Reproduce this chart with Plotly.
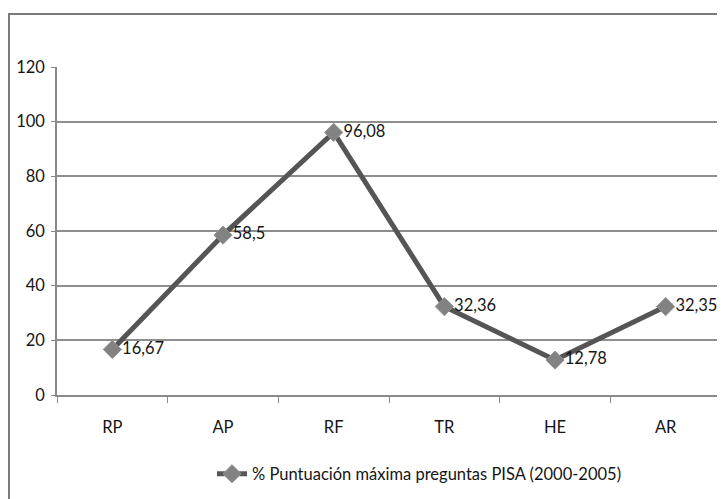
import plotly.graph_objects as go

categories = ["RP", "AP", "RF", "TR", "HE", "AR"]
values = [16.67, 58.5, 96.08, 32.36, 12.78, 32.35]
y_ticks = [0, 20, 40, 60, 80, 100, 120]
series_name = "% Puntuación máxima preguntas PISA (2000-2005)"

labels = [f"{v:g}".replace(".", ",") for v in values]

FONT = "Lato, 'Open Sans', sans-serif"
FS = 16.5
TXT = "#151515"
OFF = 8  # default page body margin
W, H = 725 - OFF, 499 - OFF
# target page-pixel positions of plot area
PX_L, PX_R, PX_T, PX_B = 57, 721, 67, 395
L = PX_L - OFF
T = PX_T - OFF
R = (W + OFF) - PX_R
B = (H + OFF) - PX_B
pw, ph = PX_R - PX_L, PX_B - PX_T

def px_x(x):
    return (x - PX_L) / pw

def px_y(y):
    return (PX_B - y) / ph

fig = go.Figure()
fig.add_trace(go.Scatter(
    x=categories, y=values, mode="lines+markers+text",
    name=series_name,
    text=labels, textposition="middle right",
    textfont=dict(family=FONT, size=FS, color=TXT),
    line=dict(color="#555555", width=5),
    marker=dict(symbol="diamond", size=14, color="#828282",
                line=dict(color="#939393", width=1)),
    cliponaxis=False,
))

fig.update_layout(
    width=W, height=H,
    margin=dict(l=L, r=R, t=T, b=B, autoexpand=False),
    paper_bgcolor="white", plot_bgcolor="white",
    font=dict(family=FONT, size=FS, color=TXT),
    showlegend=True,
    legend=dict(orientation="h", x=px_x(212), y=px_y(474), xanchor="left", yanchor="middle",
                font=dict(family=FONT, size=FS, color=TXT),
                itemwidth=30, bgcolor="rgba(0,0,0,0)"),
    xaxis=dict(range=[-0.5, len(categories) - 0.5], showgrid=False, showline=True,
               linecolor="#8a8a8a", linewidth=2,
               ticks="outside", tickson="boundaries", ticklen=6, tickcolor="#8a8a8a",
               tickwidth=1, ticklabelstandoff=16,
               tickfont=dict(family=FONT, size=FS, color=TXT),
               fixedrange=True),
    yaxis=dict(range=[0, 120], tickvals=y_ticks, showgrid=True, gridcolor="#8e8e8e",
               gridwidth=1.5, showline=True, linecolor="#8a8a8a", linewidth=1.5,
               ticks="outside", ticklen=4, tickcolor="#8a8a8a", ticklabelstandoff=3,
               tickfont=dict(family=FONT, size=FS, color=TXT),
               zeroline=False, fixedrange=True),
    shapes=[dict(type="rect", xref="paper", yref="paper",
                 x0=px_x(9), x1=px_x(780), y0=px_y(560), y1=px_y(14),
                 line=dict(color="#7a7a7a", width=2), layer="below")],
)

fig.write_html("out.html")
